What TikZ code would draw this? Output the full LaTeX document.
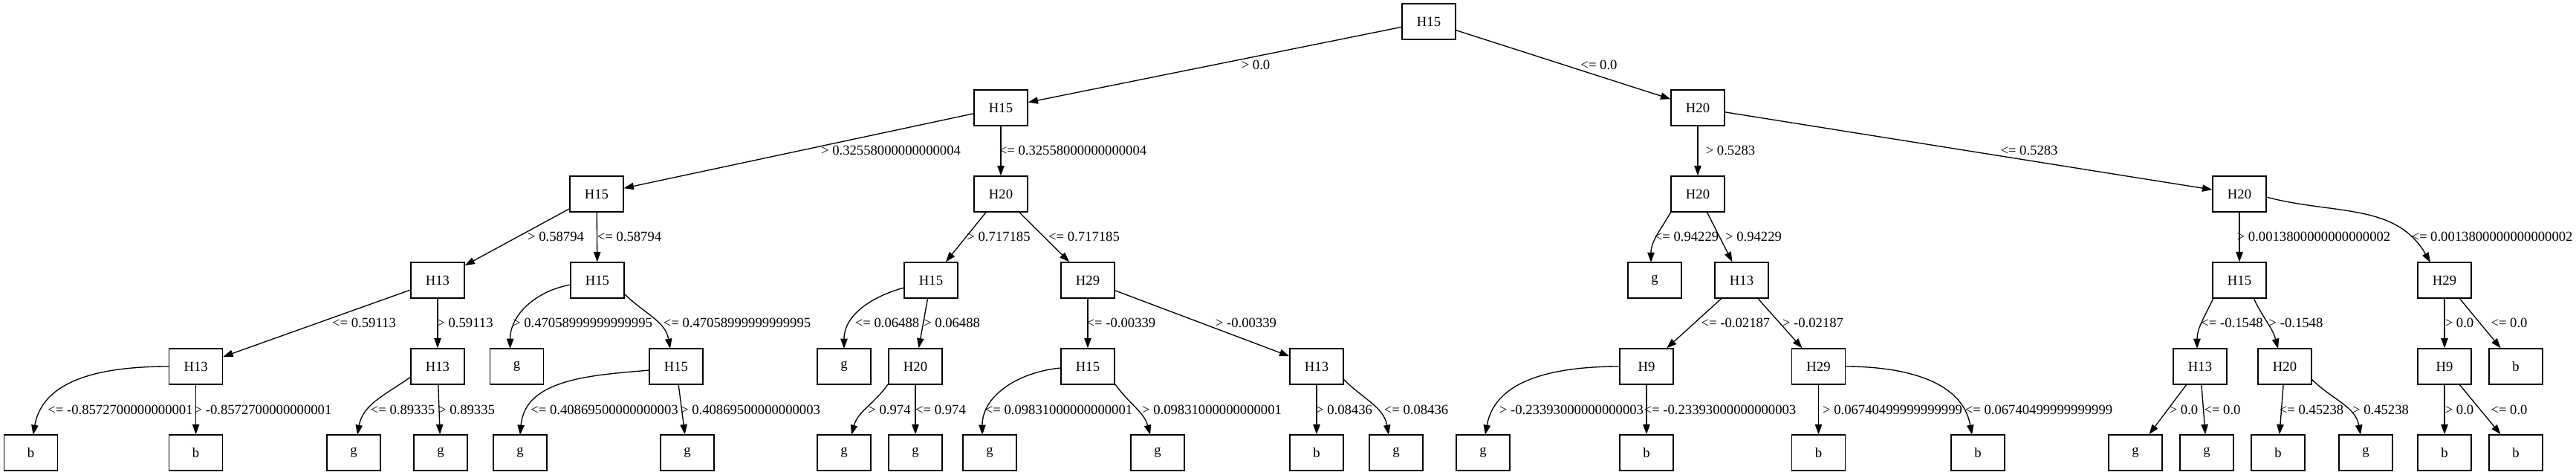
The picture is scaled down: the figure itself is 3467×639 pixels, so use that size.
\documentclass[tikz,border=0pt]{standalone}
\usepackage{fontspec}
\setmainfont{Liberation Serif}
\usetikzlibrary{arrows.meta,calc}
\begin{document}
\begin{tikzpicture}[x=0.75pt,y=0.75pt,
  tn/.style={draw,line width=1pt,minimum width=54pt,minimum height=36pt,inner sep=0pt,font=\fontsize{14}{16}\selectfont},
  ed/.style={line width=1pt,-{Triangle[length=10pt,width=7pt]}},
  lb/.style={inner sep=0pt,font=\fontsize{14}{16}\selectfont}]
\useasboundingbox (0,0) rectangle (3467,639);
% level 0-2
\node[tn] (R) at (1923,610) {H15};
\node[tn] (A1) at (1347,494) {H15};
\node[tn] (B1) at (2285,494) {H20};
\node[tn] (A2) at (803,378) {H15};
\node[tn] (A3) at (1347,378) {H20};
\node[tn] (B2) at (2285,378) {H20};
\node[tn] (B3) at (3014,378) {H20};
% level 3
\node[tn] (C1) at (589,262) {H13};
\node[tn] (C2) at (804,262) {H15};
\node[tn] (C3) at (1253,262) {H15};
\node[tn] (C4) at (1464,262) {H29};
\node[tn] (C5) at (2227,262) {g};
\node[tn] (C6) at (2344,262) {H13};
\node[tn] (C7) at (3014,262) {H15};
\node[tn] (C8) at (3290,262) {H29};
% level 4
\node[tn] (D1) at (263.6,146) {H13};
\node[tn] (D2) at (589,146) {H13};
\node[tn] (D3) at (695.6,146) {g};
\node[tn] (D4) at (910,146) {H15};
\node[tn] (D5) at (1136,146) {g};
\node[tn] (D6) at (1232,146) {H20};
\node[tn] (D7) at (1464,146) {H15};
\node[tn] (D8) at (1772,146) {H13};
\node[tn] (D9) at (2216,146) {H9};
\node[tn] (D10) at (2447.5,146) {H29};
\node[tn] (D11) at (2961,146) {H13};
\node[tn] (D12) at (3075,146) {H20};
\node[tn] (D13) at (3290,146) {H9};
\node[tn] (D14) at (3386,146) {b};
% level 5
\node[tn] (E1) at (41.6,30) {b};
\node[tn] (E2) at (263.6,30) {b};
\node[tn] (E3) at (476,30) {g};
\node[tn] (E4) at (593,30) {g};
\node[tn] (E5) at (700,30) {g};
\node[tn] (E6) at (925,30) {g};
\node[tn] (E7) at (1136,30) {g};
\node[tn] (E8) at (1232,30) {g};
\node[tn] (E9) at (1332,30) {g};
\node[tn] (E10) at (1558,30) {g};
\node[tn] (E11) at (1772,30) {b};
\node[tn] (E12) at (1879,30) {g};
\node[tn] (E13) at (1996,30) {g};
\node[tn] (E14) at (2216,30) {b};
\node[tn] (E15) at (2447.5,30) {b};
\node[tn] (E16) at (2662,30) {b};
\node[tn] (E17) at (2874,30) {g};
\node[tn] (E18) at (2970,30) {g};
\node[tn] (E19) at (3066,30) {b};
\node[tn] (E20) at (3184,30) {g};
\node[tn] (E21) at (3290,30) {b};
\node[tn] (E22) at (3386,30) {b};
% straight edges
\draw[ed] (R) -- (A1);
\draw[ed] (R) -- (B1);
\draw[ed] (A1) -- (A2);
\draw[ed] (A1) -- (A3);
\draw[ed] (B1) -- (B2);
\draw[ed] (B1) -- (B3);
\draw[ed] (A2) -- (C1);
\draw[ed] (A2) -- (C2);
\draw[ed] (A3) -- (C3);
\draw[ed] (A3) -- (C4);
\draw[ed] (B2) -- (C6);
\draw[ed] (B3) -- (C7);
\draw[ed] (C1) -- (D1);
\draw[ed] (C1) -- (D2);
\draw[ed] (C3) -- (D6);
\draw[ed] (C4) -- (D7);
\draw[ed] (C4) -- (D8);
\draw[ed] (C6) -- (D9);
\draw[ed] (C6) -- (D10);
\draw[ed] (C8) -- (D13);
\draw[ed] (C8) -- (D14);
\draw[ed] (D1) -- (E2);
\draw[ed] (D2) -- (E4);
\draw[ed] (D4) -- (E6);
\draw[ed] (D6) -- (E8);
\draw[ed] (D8) -- (E11);
\draw[ed] (D9) -- (E14);
\draw[ed] (D10) -- (E15);
\draw[ed] (D11) -- (E17);
\draw[ed] (D11) -- (E18);
\draw[ed] (D12) -- (E19);
\draw[ed] (D13) -- (E21);
\draw[ed] (D13) -- (E22);
% curved edges
\draw[ed] ($(B2)+(-36,-24)$) to[out=240,in=90] ($(C5)+(-5,24)$);
\draw[ed] ($(B3)+(36,-4)$) to[out=-15,in=120] ($(C8)+(-19,24)$);
\draw[ed] ($(C2)+(-36,-6)$) to[out=190,in=90] ($(D3)+(-9,24)$);
\draw[ed] ($(C2)+(36,-18)$) to[out=-45,in=100] ($(D4)+(-8,24)$);
\draw[ed] ($(C3)+(-36,-10)$) to[out=195,in=90] ($(D5)+(0,24)$);
\draw[ed] ($(C7)+(-35,-24)$) to[out=245,in=90] ($(D11)+(-4,24)$);
\draw[ed] ($(C7)+(19,-24)$) to[out=-65,in=105] ($(D12)+(-9,24)$);
\draw[ed] ($(D1)+(-36,0)$) to[out=180,in=80] ($(E1)+(3,24)$);
\draw[ed] ($(D2)+(-36,-14)$) to[out=215,in=80] ($(E3)+(5,24)$);
\draw[ed] ($(D4)+(-36,-5)$) to[out=185,in=85] ($(E5)+(0,24)$);
\draw[ed] ($(D6)+(-37,-24)$) to[out=235,in=75] ($(E7)+(10,24)$);
\draw[ed] ($(D7)+(-36,-2)$) to[out=185,in=90] ($(E9)+(-10,24)$);
\draw[ed] ($(D7)+(37,-24)$) to[out=-55,in=105] ($(E10)+(-10,24)$);
\draw[ed] ($(D8)+(36,-17)$) to[out=-45,in=100] ($(E12)+(-10,24)$);
\draw[ed] ($(D9)+(-36,0)$) to[out=180,in=80] ($(E13)+(3,24)$);
\draw[ed] ($(D10)+(36,0)$) to[out=0,in=100] ($(E16)+(-8,24)$);
\draw[ed] ($(D12)+(36,-17)$) to[out=-45,in=100] ($(E20)+(-7,24)$);
% labels
\node[lb] (l1) at (1690,552) {> 0.0};
\node[lb] (l2) at (2152,552) {<= 0.0};
\node[lb] (l3) at (1199,437) {> 0.32558000000000004};
\node[lb] (l4) at (1444,437) {<= 0.32558000000000004};
\node[lb] (l5) at (2329,437) {> 0.5283};
\node[lb] (l6) at (2731,437) {<= 0.5283};
\node[lb] (l7) at (748,321) {> 0.58794};
\node[lb] (l8) at (847,321) {<= 0.58794};
\node[lb] (l9) at (1344,321) {> 0.717185};
\node[lb] (l10) at (1459,321) {<= 0.717185};
\node[lb] (l11) at (2270,321) {<= 0.94229};
\node[lb] (l12) at (2360,321) {> 0.94229};
\node[lb] (l13) at (3114,321) {> 0.0013800000000000002};
\node[lb] (l14) at (3354,321) {<= 0.0013800000000000002};
\node[lb] (l15) at (490,205) {<= 0.59113};
\node[lb] (l16) at (626,205) {> 0.59113};
\node[lb] (l17) at (784,205) {> 0.47058999999999995};
\node[lb] (l18) at (992,205) {<= 0.47058999999999995};
\node[lb] (l19) at (1194,205) {<= 0.06488};
\node[lb] (l20) at (1281,205) {> 0.06488};
\node[lb] (l21) at (1509,205) {<= -0.00339};
\node[lb] (l22) at (1677,205) {> -0.00339};
\node[lb] (l23) at (2336,205) {<= -0.02187};
\node[lb] (l24) at (2440,205) {> -0.02187};
\node[lb] (l25) at (3004,205) {<= -0.1548};
\node[lb] (l26) at (3090,205) {> -0.1548};
\node[lb] (l27) at (3310,205) {> 0.0};
\node[lb] (l28) at (3377,205) {<= 0.0};
\node[lb] (l29) at (162,88) {<= -0.8572700000000001};
\node[lb] (l30) at (354,88) {> -0.8572700000000001};
\node[lb] (l31) at (542,88) {<= 0.89335};
\node[lb] (l32) at (628,88) {> 0.89335};
\node[lb] (l33) at (813.5,88) {<= 0.40869500000000003};
\node[lb] (l34) at (1010,88) {> 0.40869500000000003};
\node[lb] (l35) at (1197,88) {> 0.974};
\node[lb] (l36) at (1266,88) {<= 0.974};
\node[lb] (l37) at (1425,88) {<= 0.09831000000000001};
\node[lb] (l38) at (1631,88) {> 0.09831000000000001};
\node[lb] (l39) at (1809,88) {> 0.08436};
\node[lb] (l40) at (1906,88) {<= 0.08436};
\node[lb] (l41) at (2115,88) {> -0.23393000000000003};
\node[lb] (l42) at (2315,88) {<= -0.23393000000000003};
\node[lb] (l43) at (2547,88) {> 0.06740499999999999};
\node[lb] (l44) at (2744,88) {<= 0.06740499999999999};
\node[lb] (l45) at (2939,88) {> 0.0};
\node[lb] (l46) at (2991,88) {<= 0.0};
\node[lb] (l47) at (3111,88) {<= 0.45238};
\node[lb] (l48) at (3204,88) {> 0.45238};
\node[lb] (l49) at (3310,88) {> 0.0};
\node[lb] (l50) at (3377,88) {<= 0.0};
\end{tikzpicture}
\end{document}
